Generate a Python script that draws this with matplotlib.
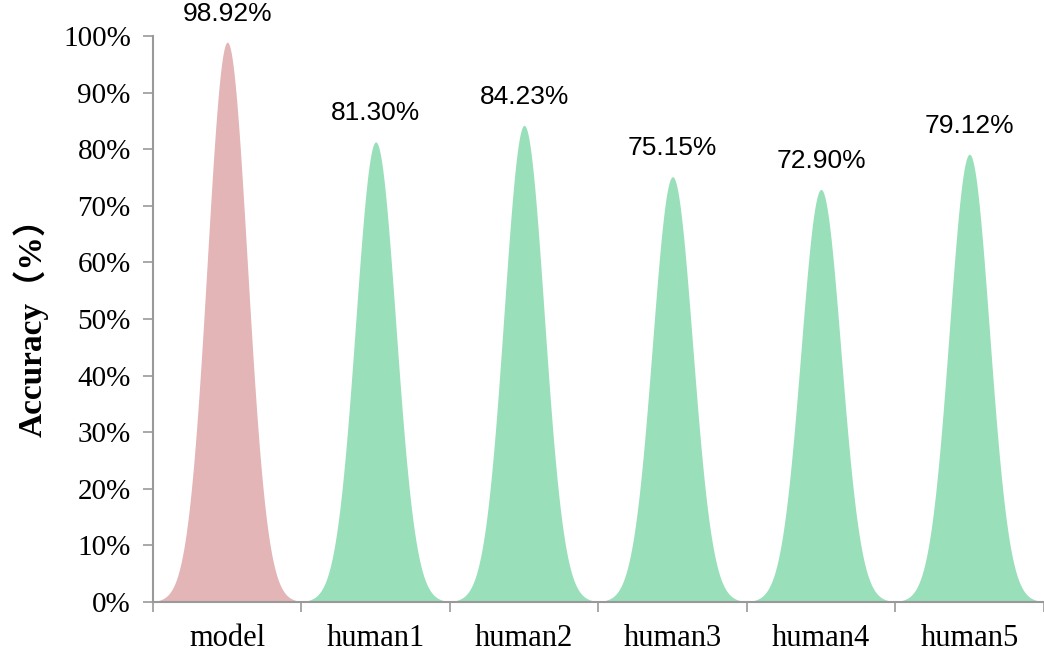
import numpy as np
import matplotlib.pyplot as plt

# values
categories = ['model', 'human1', 'human2', 'human3', 'human4', 'human5']
accuracy = [98.92, 81.30, 84.23, 75.15, 72.90, 79.12]
labels = ['98.92%', '81.30%', '84.23%', '75.15%', '72.90%', '79.12%']
colors = ['#E3B5B6', '#99DFBA', '#99DFBA', '#99DFBA', '#99DFBA', '#99DFBA']

SIGMA = 0.135  # width of each peak, in category units

fig = plt.figure(figsize=(10.44, 6.52), dpi=100)
ax = fig.add_axes([0.1466, 0.0767, 0.853, 0.868])

for i, (v, c) in enumerate(zip(accuracy, colors)):
    xs = np.linspace(i - 0.5, i + 0.5, 301)
    ys = v * np.exp(-0.5 * ((xs - i) / SIGMA) ** 2)
    ax.fill_between(xs, 0, ys, color=c, linewidth=0)
    ax.annotate(labels[i], (i, v), xytext=(0, 12), textcoords='offset points',
                ha='center', va='bottom', fontsize=19, family='Liberation Sans',
                annotation_clip=False)

ax.set_xlim(-0.5, len(categories) - 0.5)
ax.set_ylim(0, 100)
ax.set_yticks(np.arange(0, 101, 10))
ax.set_yticklabels([f'{t}%' for t in range(0, 101, 10)], fontsize=21,
                   family='Liberation Serif')
ax.set_xticks(np.arange(-0.5, len(categories) - 0.4, 1.0))
ax.set_xticklabels([])
ax.set_xticks(np.arange(len(categories)), minor=True)
ax.set_xticklabels(categories, minor=True, fontsize=22, family='Liberation Serif')
ax.tick_params(axis='x', which='minor', length=0, pad=16)
ax.tick_params(axis='x', which='major', length=7, color='#999999', width=1.2)
ax.tick_params(axis='y', length=7, color='#999999', width=1.2, pad=9)

for s in ['top', 'right']:
    ax.spines[s].set_visible(False)
for s in ['left', 'bottom']:
    ax.spines[s].set_color('#999999')
    ax.spines[s].set_linewidth(1.5)

ax.set_ylabel('Accuracy（%）', fontsize=24, fontweight='bold',
              family=['Liberation Serif', 'Noto Sans CJK SC'], labelpad=10)

fig.savefig('out.png', dpi=100)
